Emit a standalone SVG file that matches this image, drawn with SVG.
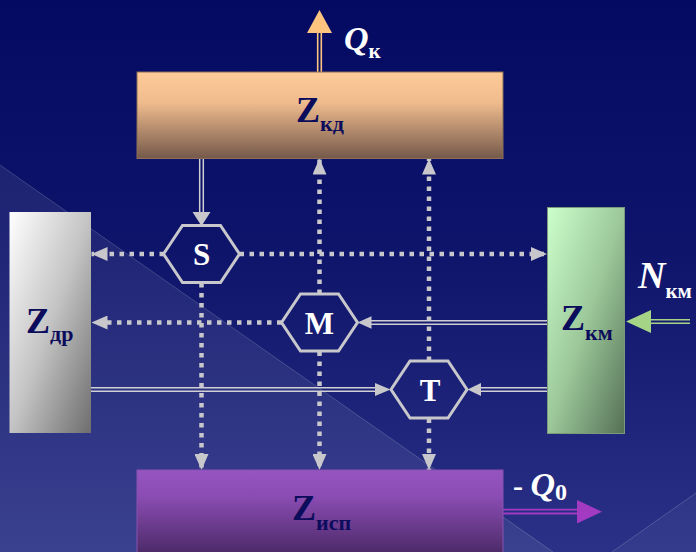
<svg xmlns="http://www.w3.org/2000/svg" width="696" height="552" viewBox="0 0 696 552">
<defs>
<linearGradient id="bg" x1="0" y1="0" x2="0" y2="1">
<stop offset="0" stop-color="#040a62"/>
<stop offset="0.45" stop-color="#0e146a"/>
<stop offset="1" stop-color="#2a3186"/>
</linearGradient>
<linearGradient id="gKd" x1="0" y1="0" x2="0" y2="1">
<stop offset="0" stop-color="#ffcb98"/>
<stop offset="0.35" stop-color="#f0bc8e"/>
<stop offset="1" stop-color="#75594a"/>
</linearGradient>
<linearGradient id="gDr" x1="0" y1="0" x2="1" y2="1">
<stop offset="0" stop-color="#ffffff"/>
<stop offset="0.5" stop-color="#c4c4c4"/>
<stop offset="1" stop-color="#6e6e6e"/>
</linearGradient>
<linearGradient id="gKm" x1="0" y1="0" x2="1" y2="1">
<stop offset="0" stop-color="#ccffcc"/>
<stop offset="0.5" stop-color="#9cc89a"/>
<stop offset="1" stop-color="#557055"/>
</linearGradient>
<linearGradient id="gIsp" x1="0" y1="0" x2="0" y2="1">
<stop offset="0" stop-color="#9655c2"/>
<stop offset="0.3" stop-color="#8a4cb2"/>
<stop offset="1" stop-color="#452660"/>
</linearGradient>
<marker id="ah" markerUnits="userSpaceOnUse" markerWidth="16" markerHeight="14" refX="16" refY="7" orient="auto" viewBox="0 0 16 14">
<path d="M0,0 L16,7 L0,14 z" fill="#c8c8cc"/>
</marker>
<style>
.box{stroke-width:1}
.zl{font-weight:bold;fill:#0c0c5c}
.z{font-size:36px}
.sub{font-size:22px}
.hex{fill:none;stroke:#c8c8cc;stroke-width:3}
.hl{font-weight:bold;font-size:31px;fill:#ffffff;text-anchor:middle}
.dot{fill:none;stroke:#c8c8cc;stroke-width:4.5;stroke-dasharray:4.5 5.5;marker-end:url(#ah)}
.dbl{fill:none;stroke:#d0d0d4;stroke-width:1.5}
.hd{fill:#c8c8cc}
.ql{font-style:italic;font-weight:bold;fill:#ffffff}
</style>
</defs>
<rect width="696" height="552" fill="url(#bg)"/>
<polygon points="0,165 553,552 0,552" fill="#ffffff" fill-opacity="0.08"/>
<line x1="0" y1="165" x2="553" y2="552" stroke="#ffffff" stroke-opacity="0.18" stroke-width="1"/>
<polygon points="696,493 612,552 696,552" fill="#ffffff" fill-opacity="0.05"/>
<line x1="696" y1="493" x2="612" y2="552" stroke="#ffffff" stroke-opacity="0.18" stroke-width="1"/>

<g id="connectors">
<path class="dot" d="M164,254 L91.5,254"/>
<path class="dot" d="M239.5,254 L547,254"/>
<path class="dot" d="M201.5,283 L201.5,470"/>
<path class="dot" d="M319.5,294 L319.5,158.5"/>
<path class="dot" d="M319.5,351.5 L319.5,470"/>
<path class="dot" d="M281.5,322.5 L91.5,322.5"/>
<path class="dot" d="M429,361 L429,158.5"/>
<path class="dot" d="M429,418.5 L429,470"/>
<g id="kd-s">
<path class="dbl" d="M199.7,158.5 V212 M203.3,158.5 V212"/>
<polygon class="hd" points="192.5,212 210.5,212 201.5,226"/>
</g>
<g id="km-m">
<path class="dbl" d="M547,320.7 H371 M547,324.3 H371"/>
<polygon class="hd" points="371.5,316.3 371.5,328.7 357.5,322.5"/>
</g>
<g id="dr-t">
<path class="dbl" d="M91,387.7 H376 M91,391.3 H376"/>
<polygon class="hd" points="375,383 375,396 390.5,389.5"/>
</g>
<g id="km-t">
<path class="dbl" d="M547,387.7 H480 M547,391.3 H480"/>
<polygon class="hd" points="481,383 481,396 467.5,389.5"/>
</g>
<g id="qk-arrow">
<path d="M317.7,72 V32 M321.3,72 V32" stroke="#fcc47e" stroke-width="1.6" fill="none"/>
<polygon points="307,33 332,33 319.5,10" fill="#fcc47e"/>
</g>
<g id="nkm-arrow">
<path d="M690,319.7 H650 M690,323.3 H650" stroke="#a6d486" stroke-width="1.6" fill="none"/>
<polygon points="651,310 651,333 626,321.5" fill="#a6d486"/>
</g>
<g id="q0-arrow">
<path d="M503,509.7 H578 M503,513.5 H578" stroke="#a23ac2" stroke-width="1.8" fill="none"/>
<polygon points="577,500 577,523.5 602,511.7" fill="#a23ac2"/>
</g>
</g>

<g id="Zkd">
<rect class="box" x="137" y="72" width="366" height="86.5" fill="url(#gKd)" stroke="#8c6e58"/>
<text class="zl" font-family="Liberation Serif, Times New Roman, serif" x="296" y="122"><tspan class="z">Z</tspan><tspan class="sub" dy="9">кд</tspan></text>
</g>
<g id="Zdr">
<rect x="9.5" y="212" width="81.5" height="221" fill="url(#gDr)"/>
<text class="zl" font-family="Liberation Serif, Times New Roman, serif" x="26" y="333"><tspan class="z">Z</tspan><tspan class="sub" dy="8">др</tspan></text>
</g>
<g id="Zkm">
<rect class="box" x="547.5" y="207.5" width="77" height="226" fill="url(#gKm)" stroke="#7a9a7a"/>
<text class="zl" font-family="Liberation Serif, Times New Roman, serif" x="561" y="330"><tspan class="z">Z</tspan><tspan class="sub" dy="10">км</tspan></text>
</g>
<g id="Zisp">
<rect class="box" x="137" y="470" width="366" height="90" fill="url(#gIsp)" stroke="#8a50b0"/>
<text class="zl" font-family="Liberation Serif, Times New Roman, serif" x="292" y="520"><tspan class="z">Z</tspan><tspan class="sub" dy="10">исп</tspan></text>
</g>
<g id="S">
<polygon class="hex" points="163.5,254 182.5,225.5 220.5,225.5 239.5,254 220.5,282.5 182.5,282.5"/>
<text class="hl" font-family="Liberation Serif, Times New Roman, serif" x="201.5" y="265">S</text>
</g>
<g id="M">
<polygon class="hex" points="281.5,322.5 300.5,294 338.5,294 357.5,322.5 338.5,351 300.5,351"/>
<text class="hl" font-family="Liberation Serif, Times New Roman, serif" x="319.5" y="334">M</text>
</g>
<g id="T">
<polygon class="hex" points="391,389.5 410,361 448,361 467,389.5 448,418 410,418"/>
<text class="hl" font-family="Liberation Serif, Times New Roman, serif" x="430" y="401">T</text>
</g>
<g id="Qk">
<text class="ql" font-family="Liberation Serif, Times New Roman, serif" x="344" y="50"><tspan font-size="34">Q</tspan><tspan font-size="21" font-style="normal" dy="8">к</tspan></text>
</g>
<g id="Nkm">
<text class="ql" font-family="Liberation Serif, Times New Roman, serif" x="638" y="288" font-weight="normal"><tspan font-size="38">N</tspan><tspan font-size="21" font-style="normal" font-weight="bold" dy="10">км</tspan></text>
</g>
<g id="Q0">
<text class="ql" font-family="Liberation Serif, Times New Roman, serif" x="513" y="496"><tspan font-size="30" font-style="normal">- </tspan><tspan font-size="34">Q</tspan><tspan font-size="24" font-style="normal" dy="4">0</tspan></text>
</g>
</svg>
